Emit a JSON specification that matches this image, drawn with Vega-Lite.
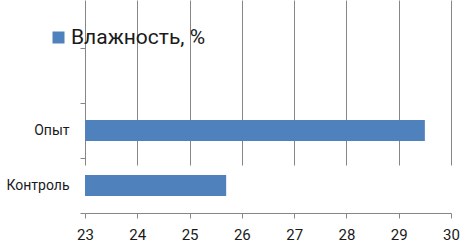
{
  "$schema": "https://vega.github.io/schema/vega-lite/v6.json",
  "width": 366,
  "height": 213,
  "autosize": {"type": "none"},
  "padding": {"left": 85, "top": 0, "right": 11, "bottom": 33},
  "background": "#ffffff",
  "config": {
    "view": {"stroke": null},
    "font": "Roboto"
  },
  "data": {
    "values": [
      {"group": "Опыт", "value": 29.5, "series": "Влажность, %"},
      {"group": "Контроль", "value": 25.7, "series": "Влажность, %"}
    ]
  },
  "mark": {"type": "bar", "height": {"band": 0.38}, "clip": true},
  "encoding": {
    "y": {
      "field": "group",
      "type": "nominal",
      "scale": {"domain": [" ", "Опыт", "Контроль"], "range": [48, 213], "paddingInner": 0, "paddingOuter": 0},
      "axis": {
        "title": null,
        "domain": false,
        "tickBand": "extent",
        "tickSize": 5,
        "tickColor": "#868686",
        "labelFontSize": 14,
        "labelColor": "#1a1a1a",
        "labelPadding": 11,
        "labelFont": "Roboto"
      }
    },
    "x": {
      "field": "value",
      "type": "quantitative",
      "scale": {"domain": [23, 30], "nice": false, "zero": false},
      "axis": {
        "title": null,
        "values": [23, 24, 25, 26, 27, 28, 29, 30],
        "grid": true,
        "gridColor": "#868686",
        "gridOpacity": 1,
        "domainColor": "#868686",
        "tickColor": "#868686",
        "tickSize": 5,
        "labelFontSize": 15,
        "labelColor": "#1a1a1a",
        "labelPadding": 9,
        "labelFont": "Roboto",
        "labelFlush": false
      }
    },
    "color": {
      "field": "series",
      "type": "nominal",
      "scale": {"range": ["#4F81BD"]},
      "legend": {
        "title": null,
        "orient": "none",
        "legendX": -37,
        "legendY": 27,
        "padding": 0,
        "symbolType": "square",
        "symbolSize": 144,
        "symbolStrokeWidth": 0,
        "labelFontSize": 21,
        "labelColor": "#1a1a1a",
        "labelFont": "Roboto",
        "labelOffset": 2
      }
    }
  }
}
